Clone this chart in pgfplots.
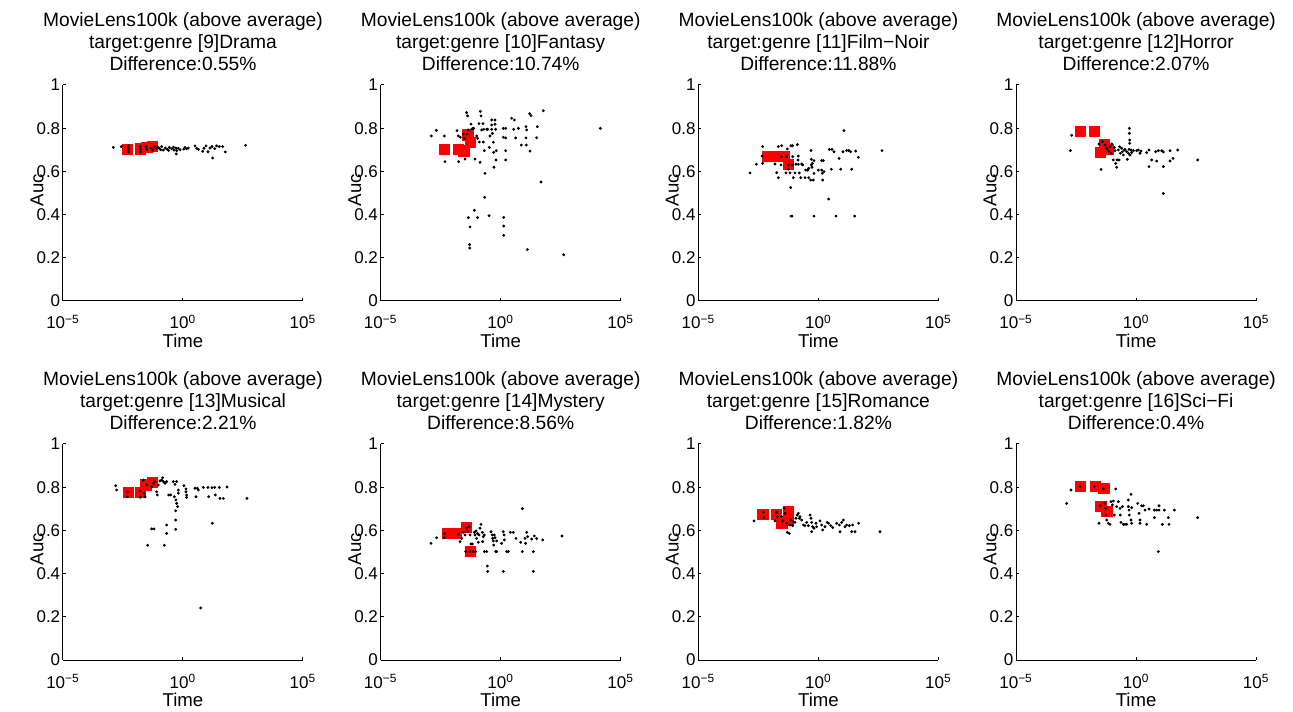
\documentclass[border=0pt]{standalone}
\usepackage{fontspec}
\setmainfont{Liberation Sans}
\usepackage{pgfplots}
\pgfplotsset{compat=1.18}

% 1 px of the reference = 0.5pt
\pgfplotsset{
  panel/.style={
    width=120pt, height=108pt, scale only axis, anchor=south west,
    xmin=-5, xmax=5, ymin=0, ymax=1,
    axis x line*=bottom, axis y line*=left,
    x axis line style={-}, y axis line style={-},
    axis line style={black, line width=0.5pt},
    tick align=inside, major tick length=1.5pt,
    tick style={black, line width=0.5pt},
    xtick={-5,0,5},
    xticklabels={10\textsuperscript{−5},10\textsuperscript{0},10\textsuperscript{5}},
    ytick={0,0.2,0.4,0.6,0.8,1},
    yticklabels={0,0.2,0.4,0.6,0.8,1},
    tick label style={font=\fontsize{8.5}{10}\selectfont},
    xticklabel style={anchor=base, yshift=-14pt},
    yticklabel style={anchor=east, inner xsep=1.2pt},
    xlabel=Time, ylabel=Auc,
    label style={font=\fontsize{9.3}{11}\selectfont},
    xlabel style={at={(axis description cs:0.5,0)}, anchor=base, yshift=-23.3pt},
    ylabel style={at={(axis description cs:0,0.5)}, anchor=center, yshift=13pt, xshift=1.5pt},
    title style={font=\fontsize{9.6}{11}\selectfont, align=center,
      at={(axis description cs:0.5,1)}, anchor=south, inner sep=0pt, yshift=1.2pt},
  },
  redsq/.style={only marks, mark=square*, mark size=2.65pt,
    mark options={fill=red, draw=red}},
  blk/.style={only marks, mark=*, mark size=0.5pt, black},
}

\begin{document}
\begin{tikzpicture}
\useasboundingbox (0,0) rectangle (646.5pt,355.5pt);

% ---------- row 1 ----------
\begin{axis}[panel, at={(31.5pt,205pt)},
  title={MovieLens100k (above average)\\target:genre [9]Drama\\Difference:0.55\%}]
\addplot[redsq] coordinates {(-2.320,0.702) (-1.778,0.704) (-1.514,0.711) (-1.278,0.716)};
\addplot[blk] coordinates {
(-2.903,0.711) (-2.570,0.715) (-2.278,0.718) (-2.278,0.705) (-2.278,0.691)
(-1.778,0.715) (-1.778,0.702) (-1.778,0.690) (-1.542,0.715) (-1.514,0.702)
(-1.320,0.708) (-1.264,0.699) (-1.181,0.715) (-1.098,0.705) (-0.986,0.707)
(-0.889,0.715) (-0.820,0.699) (-0.736,0.708) (-0.653,0.702) (-0.570,0.711)
(-0.473,0.705) (-0.375,0.699) (-0.292,0.708) (-0.264,0.696) (-0.278,0.681)
(-0.195,0.707) (0.083,0.711) (0.152,0.705) (0.222,0.708) (0.500,0.718)
(0.569,0.707) (0.639,0.702) (0.819,0.693) (0.875,0.707) (0.958,0.718)
(1.041,0.691) (1.125,0.708) (1.208,0.715) (1.236,0.662) (1.319,0.705)
(1.402,0.718) (1.513,0.715) (1.652,0.715) (1.763,0.690) (2.611,0.721)
(-1.050,0.712) (-0.930,0.700) (-0.600,0.697) (-0.400,0.712) (-0.120,0.700)
(0.030,0.703)};
\end{axis}

\begin{axis}[panel, at={(190.35pt,205pt)},
  title={MovieLens100k (above average)\\target:genre [10]Fantasy\\Difference:10.74\%}]
\addplot[redsq] coordinates {(-2.348,0.702) (-1.765,0.702) (-1.529,0.696) (-1.376,0.768) (-1.265,0.735)};
\addplot[blk] coordinates {
(-2.890,0.764) (-2.682,0.790) (-2.348,0.764) (-2.321,0.645) (-1.821,0.789)
(-1.765,0.764) (-1.751,0.645) (-1.682,0.758) (-1.557,0.773) (-1.515,0.753)
(-1.487,0.657) (-1.418,0.872) (-1.376,0.857) (-1.404,0.773) (-1.348,0.792)
(-1.237,0.819) (-1.210,0.795) (-1.168,0.799) (-1.126,0.799) (-1.071,0.657)
(-1.001,0.764) (-0.960,0.753) (-0.904,0.821) (-0.890,0.736) (-0.862,0.642)
(-0.848,0.878) (-0.821,0.857) (-0.793,0.792) (-0.737,0.821) (-0.724,0.736)
(-0.710,0.795) (-0.682,0.696) (-0.654,0.591) (-0.585,0.795) (-0.543,0.795)
(-0.474,0.711) (-0.446,0.764) (-0.376,0.838) (-0.376,0.815) (-0.376,0.795)
(-0.348,0.776) (-0.307,0.735) (-0.293,0.688) (-0.279,0.619) (-0.238,0.838)
(-0.238,0.818) (-0.210,0.795) (-0.196,0.653) (-0.182,0.696) (0.110,0.799)
(0.110,0.758) (0.207,0.799) (0.207,0.755) (0.207,0.696) (0.207,0.653)
(0.457,0.846) (0.568,0.838) (0.540,0.795) (0.624,0.755) (0.735,0.799)
(0.860,0.722) (1.054,0.807) (1.082,0.792) (1.054,0.755) (1.068,0.722)
(1.207,0.867) (1.263,0.858) (1.221,0.694) (1.499,0.756) (1.527,0.807)
(1.777,0.881) (4.152,0.799)
(-0.668,0.480) (-1.099,0.420) (-0.960,0.386) (-1.348,0.386) (-1.279,0.343)
(-0.487,0.395) (0.124,0.387) (0.124,0.347) (0.124,0.304) (-1.293,0.261)
(-1.293,0.245) (1.110,0.238) (2.624,0.214) (1.679,0.551)};
\end{axis}

\begin{axis}[panel, at={(349.2pt,205pt)},
  title={MovieLens100k (above average)\\target:genre [11]Film−Noir\\Difference:11.88\%}]
\addplot[redsq] coordinates {(-2.128,0.670) (-1.906,0.670) (-1.670,0.670) (-1.448,0.670) (-1.253,0.633)};
\addplot[blk] coordinates {
(-2.850,0.593) (-2.586,0.633) (-2.350,0.671) (-2.323,0.715) (-2.323,0.637)
(-1.670,0.715) (-1.531,0.719) (-1.670,0.571) (-1.739,0.594) (-1.809,0.634)
(-1.559,0.630) (-1.545,0.668) (-1.295,0.704) (-1.323,0.668) (-1.253,0.630)
(-1.253,0.610) (-1.350,0.593) (-1.184,0.593) (-1.142,0.719) (-1.073,0.719)
(-1.073,0.668) (-1.073,0.630) (-1.045,0.571) (-0.975,0.593) (-0.934,0.633)
(-0.878,0.724) (-0.836,0.671) (-0.850,0.653) (-0.836,0.633) (-0.795,0.593)
(-0.739,0.571) (-0.698,0.634) (-0.656,0.630) (-0.559,0.571) (-0.531,0.606)
(-0.448,0.606) (-0.406,0.571) (-0.406,0.614) (-0.323,0.560) (-0.309,0.697)
(-0.295,0.656) (-0.295,0.630) (-0.253,0.637) (-0.267,0.619) (-0.211,0.560)
(-0.184,0.650) (-0.184,0.591) (-0.003,0.606) (0.136,0.650) (0.205,0.650)
(0.136,0.606) (0.164,0.591) (0.177,0.560) (0.233,0.599) (0.539,0.610)
(0.455,0.702) (0.566,0.702) (0.650,0.691) (0.858,0.660) (0.928,0.610)
(1.025,0.691) (1.066,0.789) (1.178,0.697) (1.261,0.697) (1.344,0.691)
(1.386,0.610) (1.553,0.694) (1.663,0.665) (2.650,0.696) (-1.156,0.525)
(0.427,0.472) (-1.142,0.393) (-1.100,0.393) (-0.184,0.393) (0.733,0.393)
(1.511,0.393)};
\end{axis}

\begin{axis}[panel, at={(508.05pt,205pt)},
  title={MovieLens100k (above average)\\target:genre [12]Horror\\Difference:2.07\%}]
\addplot[redsq] coordinates {(-2.323,0.785) (-1.740,0.785) (-1.323,0.725) (-1.490,0.688) (-1.185,0.701)};
\addplot[blk] coordinates {
(-2.740,0.696) (-2.685,0.767) (-1.462,0.609) (-1.546,0.727) (-1.407,0.738)
(-1.296,0.722) (-1.226,0.707) (-1.157,0.694) (-1.087,0.714) (-1.046,0.684)
(-1.018,0.727) (-0.949,0.653) (-0.907,0.710) (-0.879,0.696) (-0.851,0.637)
(-0.810,0.619) (-0.796,0.653) (-0.740,0.699) (-0.712,0.653) (-0.685,0.714)
(-0.657,0.684) (-0.601,0.707) (-0.573,0.691) (-0.532,0.676) (-0.490,0.699)
(-0.462,0.702) (-0.393,0.691) (-0.365,0.656) (-0.323,0.684) (-0.296,0.702)
(-0.282,0.799) (-0.282,0.776) (-0.268,0.745) (-0.268,0.730) (-0.254,0.676)
(-0.212,0.699) (-0.185,0.687) (-0.115,0.696) (0.024,0.696) (0.093,0.699)
(0.163,0.684) (0.204,0.694) (0.440,0.687) (0.538,0.699) (0.538,0.622)
(0.649,0.653) (0.815,0.691) (0.857,0.648) (0.927,0.696) (1.066,0.696)
(1.135,0.690) (1.135,0.622) (1.413,0.696) (1.413,0.648) (1.538,0.660)
(1.732,0.699) (2.565,0.653) (1.135,0.498)};
\end{axis}

% ---------- row 2 ----------
\begin{axis}[panel, at={(31.5pt,25.5pt)},
  title={MovieLens100k (above average)\\target:genre [13]Musical\\Difference:2.21\%}]
\addplot[redsq] coordinates {(-2.278,0.776) (-1.778,0.776) (-1.542,0.810) (-1.278,0.822)};
\addplot[blk] coordinates {
(-2.806,0.807) (-2.764,0.787) (-2.320,0.779) (-2.320,0.756) (-1.792,0.782)
(-1.778,0.753) (-1.653,0.833) (-1.625,0.772) (-1.584,0.756) (-1.514,0.810)
(-1.306,0.802) (-1.237,0.818) (-1.167,0.826) (-1.098,0.779) (-1.070,0.764)
(-1.028,0.810) (-0.959,0.829) (-0.889,0.833) (-0.848,0.844) (-0.820,0.826)
(-0.750,0.818) (-0.681,0.826) (-0.598,0.764) (-0.514,0.764) (-0.403,0.826)
(-0.334,0.813) (-0.264,0.826) (-0.361,0.756) (-0.292,0.741) (-0.264,0.725)
(-0.223,0.710) (-0.306,0.691) (-0.306,0.648) (-0.306,0.605) (-0.195,0.787)
(-0.195,0.772) (0.041,0.807) (0.125,0.792) (0.125,0.779) (0.152,0.764)
(0.152,0.753) (0.500,0.795) (0.597,0.795) (0.639,0.787) (0.541,0.756)
(0.847,0.799) (1.041,0.799) (1.069,0.756) (1.208,0.798) (1.319,0.799)
(1.347,0.764) (1.513,0.799) (1.541,0.748) (1.680,0.748) (1.833,0.801)
(2.666,0.748) (1.222,0.633) (-1.306,0.607) (-1.209,0.607) (-0.681,0.625)
(-0.681,0.586) (-1.473,0.531) (-0.778,0.531) (0.736,0.241)};
\end{axis}

\begin{axis}[panel, at={(190.35pt,25.5pt)},
  title={MovieLens100k (above average)\\target:genre [14]Mystery\\Difference:8.56\%}]
\addplot[redsq] coordinates {(-2.210,0.586) (-1.876,0.586) (-1.432,0.614) (-1.265,0.502)};
\addplot[blk] coordinates {
(-2.904,0.540) (-2.668,0.566) (-2.348,0.585) (-2.348,0.566) (-1.765,0.583)
(-1.696,0.548) (-1.626,0.563) (-1.557,0.591) (-1.487,0.579) (-1.418,0.610)
(-1.376,0.594) (-1.321,0.617) (-1.279,0.579) (-1.237,0.537) (-1.182,0.537)
(-1.099,0.591) (-1.071,0.579) (-1.029,0.597) (-1.001,0.563) (-0.960,0.585)
(-0.932,0.545) (-0.904,0.579) (-0.862,0.610) (-0.821,0.628) (-0.765,0.591)
(-0.751,0.548) (-0.724,0.571) (-0.682,0.579) (-0.682,0.502) (-0.585,0.502)
(-0.557,0.435) (-0.543,0.410) (-0.404,0.594) (-0.348,0.579) (-0.335,0.563)
(-0.307,0.551) (-0.293,0.532) (-0.265,0.579) (-0.238,0.566) (-0.210,0.502)
(-0.168,0.502) (-0.168,0.551) (0.040,0.540) (0.110,0.594) (0.138,0.579)
(0.152,0.556) (0.249,0.502) (0.318,0.502) (0.401,0.591) (0.526,0.591)
(0.638,0.563) (0.832,0.545) (0.902,0.701) (0.902,0.502) (1.013,0.563)
(1.040,0.540) (1.082,0.591) (1.124,0.571) (1.290,0.560) (1.360,0.502)
(1.360,0.410) (1.402,0.574) (1.499,0.562) (1.749,0.556) (0.110,0.410)
(2.554,0.574) (-1.460,0.502) (-1.279,0.502) (-1.140,0.502) (-1.043,0.502)};
\end{axis}

\begin{axis}[panel, at={(349.2pt,25.5pt)},
  title={MovieLens100k (above average)\\target:genre [15]Romance\\Difference:1.82\%}]
\addplot[redsq] coordinates {(-2.323,0.674) (-1.753,0.674) (-1.253,0.687) (-1.531,0.633) (-1.253,0.648)};
\addplot[blk] coordinates {
(-2.684,0.644) (-2.295,0.684) (-2.267,0.659) (-1.809,0.644) (-1.739,0.684)
(-1.711,0.664) (-1.531,0.664) (-1.489,0.644) (-1.434,0.702) (-1.392,0.679)
(-1.323,0.633) (-1.295,0.591) (-1.212,0.586) (-1.184,0.625) (-1.156,0.648)
(-1.073,0.622) (-1.045,0.640) (-0.975,0.637) (-0.934,0.656) (-0.878,0.671)
(-0.836,0.679) (-0.795,0.656) (-0.767,0.664) (-0.698,0.648) (-0.628,0.625)
(-0.559,0.622) (-0.489,0.637) (-0.420,0.622) (-0.350,0.671) (-0.309,0.656)
(-0.281,0.637) (-0.239,0.617) (-0.281,0.594) (-0.184,0.610) (-0.100,0.633)
(-0.073,0.617) (0.066,0.644) (0.136,0.625) (0.177,0.602) (0.275,0.617)
(0.372,0.637) (0.427,0.633) (0.511,0.622) (0.594,0.613) (0.761,0.633)
(0.872,0.625) (0.900,0.594) (0.969,0.637) (1.039,0.648) (1.108,0.617)
(1.178,0.625) (1.289,0.622) (1.386,0.594) (1.428,0.625) (1.525,0.594)
(1.677,0.633) (2.566,0.594)};
\end{axis}

\begin{axis}[panel, at={(508.05pt,25.5pt)},
  title={MovieLens100k (above average)\\target:genre [16]Sci−Fi\\Difference:0.4\%}]
\addplot[redsq] coordinates {(-2.323,0.804) (-1.699,0.804) (-1.351,0.795) (-1.462,0.711) (-1.226,0.688)};
\addplot[blk] coordinates {
(-2.893,0.725) (-2.712,0.787) (-2.337,0.803) (-1.740,0.803) (-1.546,0.633)
(-1.504,0.714) (-1.365,0.792) (-1.296,0.725) (-1.268,0.702) (-1.254,0.671)
(-1.226,0.648) (-1.157,0.633) (-1.087,0.628) (-1.046,0.733) (-0.990,0.718)
(-0.949,0.736) (-0.907,0.671) (-0.851,0.792) (-0.810,0.710) (-0.740,0.733)
(-0.671,0.702) (-0.657,0.671) (-0.629,0.637) (-0.573,0.710) (-0.532,0.628)
(-0.462,0.628) (-0.393,0.628) (-0.323,0.741) (-0.323,0.710) (-0.296,0.694)
(-0.282,0.671) (-0.212,0.767) (-0.212,0.648) (-0.185,0.633) (-0.185,0.705)
(0.065,0.725) (0.121,0.679) (0.163,0.648) (0.163,0.633) (0.232,0.714)
(0.302,0.714) (0.371,0.694) (0.440,0.628) (0.538,0.699) (0.760,0.694)
(0.760,0.659) (0.857,0.694) (0.954,0.714) (0.954,0.694) (1.093,0.628)
(1.176,0.694) (1.343,0.659) (1.371,0.628) (1.593,0.694) (2.565,0.659)
(0.927,0.502)};
\end{axis}
\end{tikzpicture}
\end{document}
